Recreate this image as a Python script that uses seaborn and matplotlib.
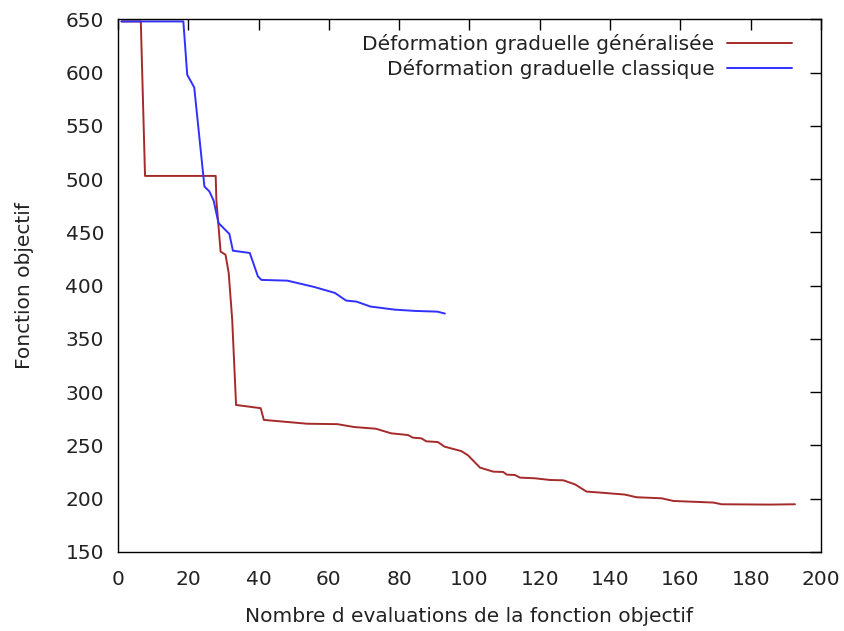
import matplotlib
matplotlib.use("Agg")
import matplotlib.pyplot as plt
import seaborn as sns
import pandas as pd

# Objective function vs. number of evaluations, two gradual deformation variants
gen_label = "Déformation graduelle généralisée"
cls_label = "Déformation graduelle classique"

gen_x = [1, 6.5, 7.7, 27.8, 28.0, 29.2, 30.6, 31.5, 32.5, 33.6, 40.6, 41.5, 53.8,
         62.4, 67.2, 73.4, 77.7, 82.5, 83.9, 86.3, 87.7, 91, 92.9, 97.7, 99.6,
         103, 106.8, 109.6, 110.6, 112.9, 114.4, 118.6, 122.9, 126.7, 130,
         133.3, 137.1, 144.2, 147.5, 154.7, 158, 169.4, 171.7, 185.5, 192.6]
gen_y = [648, 648, 503, 503, 480, 432, 429, 412, 368, 288, 285, 274, 270.4,
         270, 267.3, 265.7, 261.4, 259.8, 257.3, 256.7, 253.9, 253.2, 248.9,
         244.7, 240.7, 229.2, 225.4, 225.1, 222.6, 222.3, 219.8, 219.2, 217.6,
         217.3, 213.5, 206.7, 205.8, 203.9, 201.4, 200.4, 197.9, 196.4, 194.8,
         194.5, 194.8]

cls_x = [1, 18.6, 19.7, 21.7, 24.6, 26, 27.2, 28.6, 31.7, 32.7, 37.5, 39.8,
         40.8, 48.2, 55.8, 61.7, 64.9, 67.9, 71.8, 78.7, 84.4, 90.9, 93]
cls_y = [648, 648, 598, 586, 493, 488.5, 480, 458.8, 448.5, 432.8, 430.7,
         408.8, 405.4, 404.7, 398.8, 393.2, 386, 385, 380.4, 377.5, 376.3,
         375.6, 373.8]

x_ticks = [0, 20, 40, 60, 80, 100, 120, 140, 160, 180, 200]
y_ticks = [150, 200, 250, 300, 350, 400, 450, 500, 550, 600, 650]

FS = 14.5
TXT = "#222222"

sns.set_style("white")
plt.rcParams["font.family"] = ["DejaVu Sans"]

fig = plt.figure(figsize=(8.45, 6.31), dpi=100)
ax = fig.add_axes([0.1396, 0.1252, 0.9716 - 0.1396, 0.9694 - 0.1252])

df_gen = pd.DataFrame({"x": gen_x, "y": gen_y})
df_cls = pd.DataFrame({"x": cls_x, "y": cls_y})
sns.lineplot(data=df_gen, x="x", y="y", ax=ax, color="#a52a2a", lw=1.4,
             label=gen_label, sort=False)
sns.lineplot(data=df_cls, x="x", y="y", ax=ax, color="#3030ff", lw=1.4,
             label=cls_label, sort=False)

ax.set_xlim(0, 200)
ax.set_ylim(150, 650)
ax.set_xticks(x_ticks)
ax.set_yticks(y_ticks)
ax.tick_params(direction="in", length=8, width=1, top=True, right=True,
               labelsize=FS, colors="black", labelcolor=TXT)
ax.tick_params(axis="x", pad=13)
ax.tick_params(axis="y", pad=10)
for s in ax.spines.values():
    s.set_color("black")
    s.set_linewidth(1.0)

ax.set_xlabel("Nombre d evaluations de la fonction objectif", fontsize=FS,
              color=TXT, labelpad=13)
ax.set_ylabel("Fonction objectif", fontsize=FS, color=TXT, labelpad=23)

leg = ax.legend(loc="upper right", bbox_to_anchor=(0.9586, 0.972),
                markerfirst=False, frameon=False, fontsize=FS,
                handlelength=3.2, handletextpad=0.65, labelspacing=0.25,
                borderaxespad=0, borderpad=0)
for t in leg.get_texts():
    t.set_color(TXT)

fig.savefig("out.png", dpi=100)
